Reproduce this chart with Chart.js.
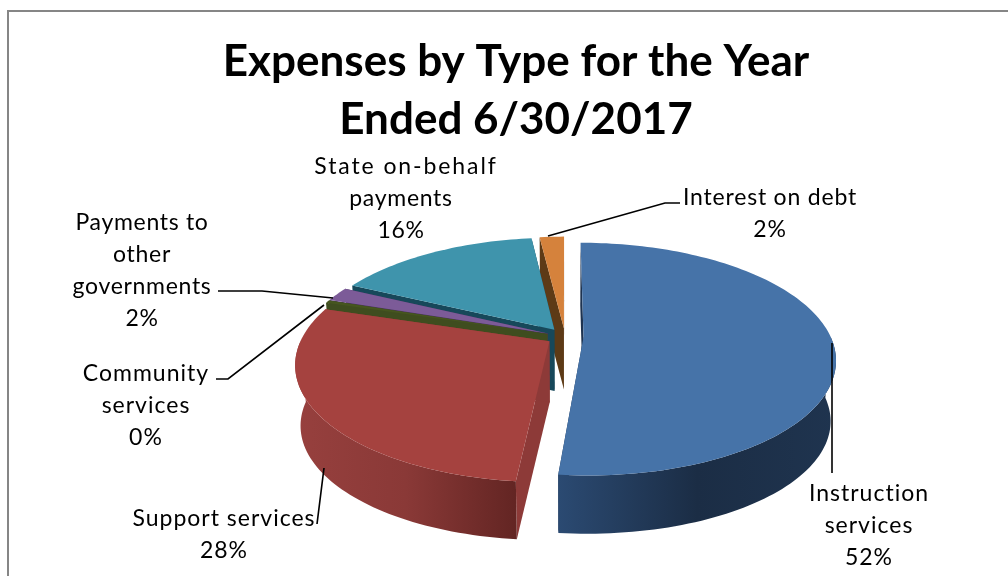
<!DOCTYPE html>
<html>
<head>
<meta charset="utf-8">
<title>Expenses by Type</title>
<script src="https://cdn.jsdelivr.net/npm/chart.js@4"></script>
<style>
    html, body { margin: 0; padding: 0; background: #fff; overflow: hidden; }
    canvas { display: block; }
</style>
</head>
<body>
<canvas id="expenses-chart" width="1008" height="576"></canvas>
<script>
const titleLines = ['Expenses by Type for the Year', 'Ended 6/30/2017'];
const categories = ['Instruction services', 'Support services', 'Community services',
    'Payments to other governments', 'State on-behalf payments', 'Interest on debt'];
const expenseShares = [51.55, 28.25, 0.4, 2.0, 15.9, 1.9];

const labelLines = [
    ['Instruction', 'services'],
    ['Support services'],
    ['Community', 'services'],
    ['Payments to', 'other', 'governments'],
    ['State on-behalf', 'payments'],
    ['Interest on debt']
];

// colours per slice
const topColors = ['#4673a8', '#a5423f', '#46561f', '#7c5b98', '#3f94ac', '#d5823c'];
const wallStops = [
    ['#2b4a72', '#1b2d45', '#1f344f'],
    ['#97403e', '#8a3937', '#632523'],
    ['#3f4d1f', '#3f4d1f', '#3f4d1f'],
    ['#4a3560', '#4a3560', '#4a3560'],
    ['#17485a', '#17485a', '#17485a'],
    ['#5d3a16', '#5d3a16', '#5d3a16']
];
const sideWallColors = ['#1e3350', '#8d3a38', '#3f4d1f', '#4a3560', '#17485a', '#5d3a16'];
const drawOrder = [5, 4, 3, 2, 0, 1];

// label text centre x, first line y and tracking
const labelAnchors = [
    { x: 869, y: 494, track: 1 }, { x: 224, y: 519, track: 1 }, { x: 146, y: 374, track: 1 },
    { x: 142, y: 223, track: 0.7 }, { x: 401, y: 167, track: 0.7, firstDx: 5, firstTrack: 1.9 },
    { x: 770, y: 198, track: 0.8 }
];
const leaderPaths = [
    [[832, 343], [832, 473]],
    [[317, 524], [324, 468]],
    [[216, 379], [228, 379], [324, 305]],
    [[218, 291], [262, 291], [333, 298]],
    [],
    [[548, 236], [665, 203], [680, 203]]
];

const view = { shiftX: 49, shiftY: -16, rx: 247, ry: 112, tilt: 0.19, depth: 61, lowerScale: 0.98 };

function project(arc, u, v, drop) {
    const s = (1 / (1 - view.tilt * v)) * (drop ? view.lowerScale : 1);
    return [arc.x + view.shiftX + view.rx * u * s, arc.y + view.shiftY + view.ry * v * s + drop];
}

function slicePoints(arc) {
    const offset = arc.options.offset / arc.outerRadius;
    const mid = (arc.startAngle + arc.endAngle) / 2;
    const ox = Math.cos(mid) * offset;
    const oy = Math.sin(mid) * offset;
    const steps = Math.max(4, Math.ceil((arc.endAngle - arc.startAngle) * 40));
    const rim = [];
    for (let i = 0; i <= steps; i++) {
        const a = arc.startAngle + (arc.endAngle - arc.startAngle) * i / steps;
        rim.push({ a, u: ox + Math.cos(a), v: oy + Math.sin(a) });
    }
    return { apex: { u: ox, v: oy }, rim };
}

function fillPoly(ctx, pts, fill) {
    ctx.beginPath();
    pts.forEach((p, i) => i ? ctx.lineTo(p[0], p[1]) : ctx.moveTo(p[0], p[1]));
    ctx.closePath();
    ctx.fillStyle = fill;
    ctx.fill();
}

function drawSlice(ctx, arc, index) {
    const { apex, rim } = slicePoints(arc);
    const apexTop = project(arc, apex.u, apex.v, 0);
    const apexLow = project(arc, apex.u, apex.v, view.depth);
    const first = rim[0];
    const last = rim[rim.length - 1];

    // cut faces
    [first, last].forEach(p => {
        fillPoly(ctx, [apexTop, project(arc, p.u, p.v, 0), project(arc, p.u, p.v, view.depth), apexLow],
            sideWallColors[index]);
    });

    // outer wall, front facing part only
    const front = rim.filter(p => Math.sin(p.a) > -0.02);
    if (front.length > 1) {
        const upper = front.map(p => project(arc, p.u, p.v, 0));
        const lower = front.map(p => project(arc, p.u, p.v, view.depth)).reverse();
        const xs = upper.map(p => p[0]);
        const grad = ctx.createLinearGradient(Math.max(...xs), 0, Math.min(...xs), 0);
        const stops = wallStops[index];
        // stops run left to right
        grad.addColorStop(1, stops[0]);
        grad.addColorStop(0.5, stops[1]);
        grad.addColorStop(0, stops[2]);
        fillPoly(ctx, upper.concat(lower), grad);
    }

    // top face
    fillPoly(ctx, [apexTop].concat(rim.map(p => project(arc, p.u, p.v, 0))), arc.options.backgroundColor);
}

const tiltedPie = {
    id: 'tiltedPie',
    beforeDraw(chart) {
        const ctx = chart.ctx;
        ctx.save();
        ctx.strokeStyle = '#868686';
        ctx.lineWidth = 2;
        ctx.beginPath();
        ctx.moveTo(8, 576);
        ctx.lineTo(8, 11);
        ctx.lineTo(1008, 11);
        ctx.stroke();
        ctx.restore();
    },
    beforeDatasetsDraw(chart) {
        const ctx = chart.ctx;
        const arcs = chart.getDatasetMeta(0).data;
        ctx.save();
        drawOrder.forEach(i => drawSlice(ctx, arcs[i], i));
        ctx.restore();
        return false;
    },
    afterDraw(chart) {
        const ctx = chart.ctx;
        const total = expenseShares.reduce((a, b) => a + b, 0);
        ctx.save();
        ctx.strokeStyle = '#000';
        ctx.lineWidth = 1.6;
        leaderPaths.forEach(path => {
            if (!path.length) return;
            ctx.beginPath();
            path.forEach((p, i) => i ? ctx.lineTo(p[0], p[1]) : ctx.moveTo(p[0], p[1]));
            ctx.stroke();
        });
        ctx.fillStyle = '#000';
        ctx.font = '23px Lato';
        ctx.textAlign = 'center';
        ctx.textBaseline = 'middle';
        labelLines.forEach((lines, i) => {
            const pct = Math.round(expenseShares[i] / total * 100) + '%';
            const anchor = labelAnchors[i];
            lines.concat(pct).forEach((line, n) => {
                const isFirst = n === 0 && anchor.firstTrack;
                ctx.letterSpacing = (isFirst ? anchor.firstTrack : anchor.track) + 'px';
                ctx.fillText(line, anchor.x + (isFirst ? anchor.firstDx : 0), anchor.y + n * 31.7);
            });
        });
        ctx.restore();
    }
};

new Chart(document.getElementById('expenses-chart'), {
    type: 'pie',
    data: {
        labels: categories,
        datasets: [{
            data: expenseShares,
            backgroundColor: topColors,
            borderWidth: 0,
            offset: 14
        }]
    },
    options: {
        responsive: false,
        animation: false,
        devicePixelRatio: 1,
        layout: { padding: { left: 24, bottom: 30 } },
        plugins: {
            legend: { display: false },
            tooltip: { enabled: false },
            title: {
                display: true,
                text: titleLines,
                color: '#000',
                font: { family: 'Lato', size: 44, weight: 'bold', lineHeight: 1.32 },
                padding: { top: 33, bottom: 10 }
            }
        }
    },
    plugins: [tiltedPie]
});
</script>
</body>
</html>
